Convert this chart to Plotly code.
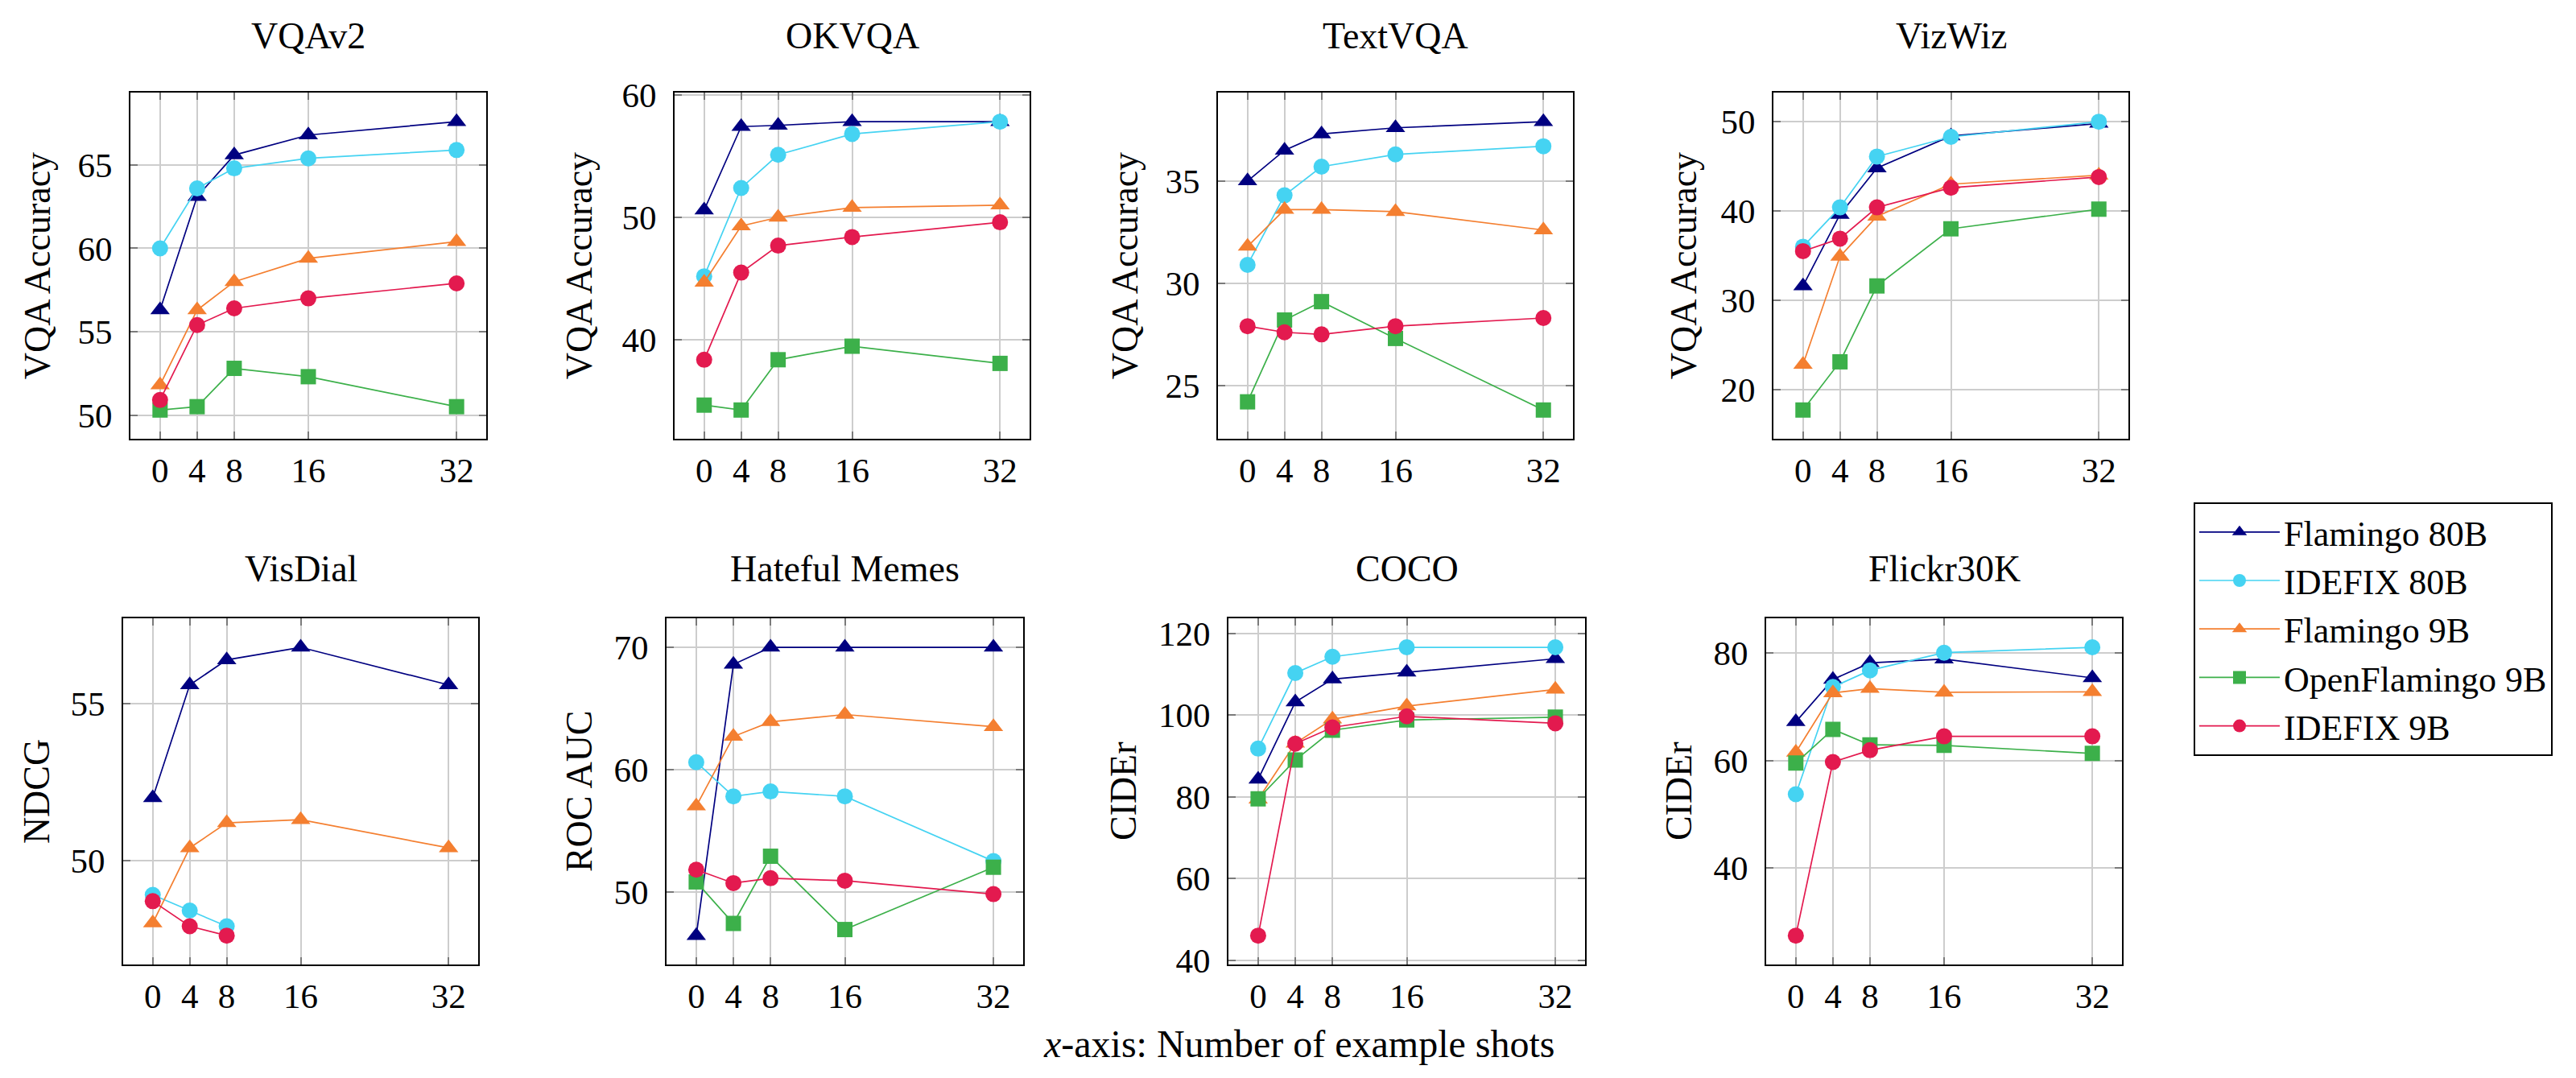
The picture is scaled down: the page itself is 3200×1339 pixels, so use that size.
import plotly.graph_objects as go

# ---------------- data ----------------
shots = [0, 4, 8, 16, 32]
series_names = ["Flamingo 80B", "IDEFIX 80B", "Flamingo 9B", "OpenFlamingo 9B", "IDEFIX 9B"]
series_colors = ["#000080", "#45D3F2", "#F47F30", "#3CB04A", "#E31A4F"]
series_symbols = ["triangle-up", "circle", "triangle-up", "square", "circle"]

benchmarks = ["VQAv2", "OKVQA", "TextVQA", "VizWiz", "VisDial", "Hateful Memes", "COCO", "Flickr30K"]
y_titles = ["VQA Accuracy", "VQA Accuracy", "VQA Accuracy", "VQA Accuracy", "NDCG", "ROC AUC", "CIDEr", "CIDEr"]
y_tickvals = [
    [50, 55, 60, 65],
    [40, 50, 60],
    [25, 30, 35],
    [20, 30, 40, 50],
    [50, 55],
    [50, 60, 70],
    [40, 60, 80, 100, 120],
    [40, 60, 80],
]

# each list: Flamingo 80B, IDEFIX 80B, Flamingo 9B, OpenFlamingo 9B, IDEFIX 9B
vqav2 = [
    [56.3, 63.1, 65.6, 66.8, 67.6],
    [60.0, 63.6, 64.8, 65.4, 65.9],
    [51.8, 56.3, 58.0, 59.4, 60.4],
    [50.3, 50.5, 52.8, 52.3, 50.5],
    [50.9, 55.4, 56.4, 57.0, 57.9],
]
okvqa = [
    [50.6, 57.4, 57.5, 57.8, 57.8],
    [45.2, 52.4, 55.1, 56.8, 57.8],
    [44.7, 49.3, 50.0, 50.8, 51.0],
    [34.7, 34.3, 38.4, 39.5, 38.1],
    [38.4, 45.5, 47.7, 48.4, 49.6],
]
textvqa = [
    [35.0, 36.5, 37.3, 37.6, 37.9],
    [30.9, 34.3, 35.7, 36.3, 36.7],
    [31.8, 33.6, 33.6, 33.5, 32.6],
    [24.2, 28.2, 29.1, 27.3, 23.8],
    [27.9, 27.6, 27.5, 27.9, 28.3],
]
vizwiz = [
    [31.6, 39.6, 44.8, 48.4, 49.8],
    [36.0, 40.4, 46.1, 48.3, 50.0],
    [22.8, 34.9, 39.4, 43.0, 44.0],
    [17.7, 23.1, 31.6, 38.0, 40.2],
    [35.5, 36.9, 40.4, 42.6, 43.8],
]
visdial = [
    [52.0, 55.6, 56.4, 56.8, 55.6],
    [48.9, 48.4, 47.9, None, None],
    [48.0, 50.4, 51.2, 51.3, 50.4],
    [None, None, None, None, None],
    [48.7, 47.9, 47.6, None, None],
]
hateful = [
    [46.4, 68.6, 70.0, 70.0, 70.0],
    [60.6, 57.8, 58.2, 57.8, 52.5],
    [57.0, 62.7, 63.9, 64.5, 63.5],
    [50.8, 47.4, 52.9, 46.9, 52.0],
    [51.8, 50.7, 51.1, 50.9, 49.8],
]
coco = [
    [84.3, 103.2, 108.8, 110.5, 113.8],
    [91.8, 110.3, 114.3, 116.6, 116.6],
    [79.4, 93.1, 99.0, 102.2, 106.3],
    [79.5, 89.0, 96.3, 98.8, 99.5],
    [46.0, 93.0, 97.0, 99.7, 98.0],
]
flickr = [
    [67.2, 75.1, 78.2, 78.9, 75.4],
    [53.7, 73.7, 76.8, 80.1, 81.1],
    [61.5, 72.6, 73.4, 72.7, 72.8],
    [59.5, 65.8, 62.9, 62.8, 61.3],
    [27.3, 59.7, 61.9, 64.5, 64.5],
]
panel_data = [vqav2, okvqa, textvqa, vizwiz, visdial, hateful, coco, flickr]

# ---------------- layout geometry (pixels in the screenshot) ----------------
W, H = 3200, 1339
OFF = 8  # default page body margin
FONT = "Liberation Serif"
panel_x = [(162, 604), (838, 1279), (1513, 1954), (2203, 2644),
           (153, 594), (828, 1271), (1526, 1969), (2194, 2636)]
row_y = [(97, 540), (770, 1213)]
title_y = [24, 706]
ylabel_x = [46, 719, 1397, 2091, 45, 719, 1395, 2085]


def px(x):
    return (x - OFF) / W


def py(y):
    return 1 - (y - OFF) / H


fig = go.Figure()
annotations = []
layout_axes = {}
marker_sizes = {"triangle-up": 21, "circle": 20, "square": 19}

for i, name in enumerate(benchmarks):
    row = 0 if i < 4 else 1
    x0, x1 = panel_x[i]
    y0, y1 = row_y[row]
    sfx = "" if i == 0 else str(i + 1)
    xa, ya = "x" + sfx, "y" + sfx

    data = panel_data[i]
    vals = [v for s in data for v in s if v is not None]
    lo, hi = min(vals), max(vals)
    pad = 0.1 * (hi - lo)

    for k in range(5):
        fig.add_trace(go.Scatter(
            x=shots, y=data[k], mode="lines+markers", name=series_names[k],
            xaxis=xa, yaxis=ya, showlegend=(i == 0), legendgroup=series_names[k],
            line=dict(color=series_colors[k], width=1.7),
            marker=dict(symbol=series_symbols[k], color=series_colors[k],
                        size=marker_sizes[series_symbols[k]], line=dict(width=0)),
            connectgaps=False,
        ))

    common = dict(
        showline=True, linecolor="black", linewidth=2, mirror="ticks",
        ticks="inside", ticklen=9, tickwidth=1.5, tickcolor="#7a7a7a",
        showgrid=True, gridcolor="#cdcdcd", gridwidth=1.5, zeroline=False,
        tickfont=dict(family=FONT, size=43, color="black"),
    )
    layout_axes["xaxis" + sfx] = dict(
        common, domain=[px(x0), px(x1)], anchor=ya, range=[-3.2, 35.2],
        tickmode="array", tickvals=shots, ticklabelstandoff=0,
    )
    layout_axes["yaxis" + sfx] = dict(
        common, domain=[py(y1), py(y0)], anchor=xa, range=[lo - pad, hi + pad],
        tickmode="array", tickvals=y_tickvals[i], ticklabelstandoff=12,
    )

    annotations.append(dict(
        text=name, x=px((x0 + x1) / 2), y=py(title_y[row]), xref="paper", yref="paper",
        showarrow=False, xanchor="center", yanchor="middle",
        font=dict(family=FONT, size=46, color="black"),
    ))
    annotations.append(dict(
        text=y_titles[i], x=px(ylabel_x[i]), y=py((y0 + y1) / 2), xref="paper", yref="paper",
        showarrow=False, xanchor="center", yanchor="middle", textangle=-90,
        font=dict(family=FONT, size=46, color="black"),
    ))

annotations.append(dict(
    text="<i>x</i>-axis: Number of example shots", x=px(1614), y=py(1315),
    xref="paper", yref="paper", showarrow=False, xanchor="center", yanchor="middle",
    font=dict(family=FONT, size=48, color="black"),
))

fig.update_layout(
    width=W, height=H, margin=dict(l=0, r=0, t=0, b=0),
    paper_bgcolor="white", plot_bgcolor="white",
    annotations=annotations,
    legend=dict(
        x=px(2725), y=py(621), xanchor="left", yanchor="top",
        bordercolor="black", borderwidth=2, bgcolor="white",
        font=dict(family=FONT, size=44, color="black"),
        itemwidth=100, itemsizing="trace", tracegroupgap=0,
    ),
    **layout_axes,
)

fig.write_html("out.html")
